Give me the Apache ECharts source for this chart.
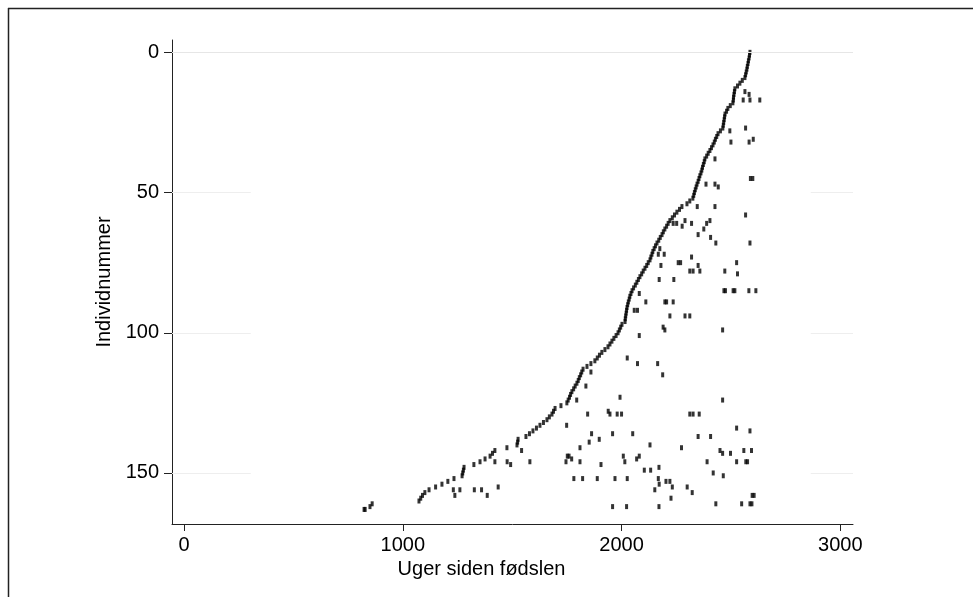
<!DOCTYPE html>
<html>
<head>
<meta charset="utf-8">
<script src="https://cdn.jsdelivr.net/npm/echarts@6/dist/echarts.min.js"></script>
<style>
html, body { margin: 0; padding: 0; background: #fff; }
#chart { width: 973px; height: 597px; }
</style>
</head>
<body>
<div id="chart"></div>
<script>
// uge for første observation, et tal pr. individ (række 0..163)
var startWeeks = [
  2587, 2585, 2583, 2580, 2578, 2575, 2573, 2570, 2567, 2564,
  2552, 2541, 2530, 2518, 2516, 2514, 2512, 2511, 2509, 2497,
  2486, 2480, 2473, 2471, 2469, 2467, 2465, 2463, 2452, 2441,
  2435, 2429, 2424, 2418, 2411, 2404, 2396, 2389, 2381, 2378,
  2374, 2370, 2367, 2363, 2358, 2354, 2350, 2345, 2341, 2337,
  2333, 2330, 2326, 2312, 2299, 2276, 2265, 2253, 2242, 2232,
  2221, 2213, 2206, 2198, 2191, 2185, 2177, 2170, 2162, 2155,
  2149, 2143, 2139, 2134, 2130, 2122, 2115, 2107, 2099, 2092,
  2084, 2077, 2070, 2063, 2055, 2048, 2043, 2038, 2035, 2031,
  2028, 2025, 2023, 2021, 2019, 2017, 2016, 2002, 1996, 1990,
  1984, 1975, 1965, 1956, 1947, 1938, 1924, 1910, 1899, 1889,
  1878, 1860, 1842, 1824, 1818, 1813, 1807, 1802, 1796, 1788,
  1781, 1773, 1767, 1762, 1756, 1750, 1723, 1696, 1689, 1682,
  1670, 1659, 1643, 1627, 1611, 1595, 1579, 1563, 1527, 1525,
  1522, 1476, 1421, 1410, 1399, 1376, 1353, 1325, 1280, 1277,
  1274, 1271, 1234, 1206, 1179, 1150, 1120, 1101, 1090, 1082,
  1074, 860, 850, 823
];

// senere observationer: uge og individnummer
var eventWeeks = [
  2564, 2583, 2556, 2587, 2632, 2567, 2495, 2602, 2583, 2500,
  2427, 2589, 2600, 2386, 2427, 2442, 2427, 2567, 2389, 2404,
  2376, 2407, 2431, 2587, 2526, 2358, 2472, 2530,
  2468, 2475, 2510, 2518, 2582, 2614, 2462, 2462, 2526, 2587,
  2407, 2450, 2462, 2498, 2559, 2594, 2391, 2526, 2568, 2576,
  2419, 2465, 2597, 2606, 2431, 2549, 2587, 2596,
  2346, 2236, 2252, 2290, 2277, 2320, 2350, 2175, 2168, 2195,
  2180, 2259, 2270, 2320, 2350, 2312, 2327, 2172, 2239, 2081,
  2111, 2198, 2206, 2236, 2058, 2073, 2221, 2290, 2312, 2190,
  2198, 2081, 2026, 2073, 2165, 2188, 1860, 1837, 1993, 1795,
  1845, 1939, 1947, 1980, 2000, 2312, 2327, 2355, 1749,
  1863, 1959, 2051, 2350, 1852, 1898, 1810, 2130, 2274, 1752,
  1760, 1772, 1746, 1810, 1906, 2008, 2015, 2069, 2081, 2104,
  2133, 2171, 1782, 1822, 1889, 1970, 2026, 2168, 2172, 2203,
  2221, 2232, 2152, 2300, 2323, 2226, 1959, 2023, 2171,
  1543, 1581, 1477, 1493, 1421, 1436, 1386, 1360, 1327, 1261,
  1231, 1238, 828
];
var eventRows = [
  14, 15, 17, 17, 17, 27, 28, 31, 32, 32,
  38, 45, 45, 47, 47, 48, 55, 58, 61, 60,
  63, 66, 68, 68, 75, 78, 78, 79,
  85, 85, 85, 85, 85, 85, 99, 124, 134, 135,
  137, 142, 143, 143, 142, 142, 146, 146, 146, 146,
  150, 151, 158, 158, 161, 161, 161, 161,
  55, 61, 61, 60, 62, 61, 65, 70, 72, 72,
  76, 75, 75, 73, 76, 78, 78, 81, 81, 86,
  89, 89, 89, 89, 92, 92, 94, 94, 94, 98,
  99, 101, 109, 111, 111, 115, 114, 119, 123, 124,
  129, 128, 129, 129, 129, 129, 129, 129, 133,
  136, 136, 136, 137, 139, 138, 141, 140, 141, 144,
  144, 145, 146, 146, 147, 144, 146, 145, 144, 149,
  149, 148, 152, 152, 152, 152, 152, 152, 154, 153,
  153, 155, 156, 155, 157, 159, 162, 162, 162,
  142, 146, 146, 147, 146, 155, 158, 156, 156, 156,
  156, 158, 163
];

var xTicks = [0, 1000, 2000, 3000];
var yTicks = [0, 50, 100, 150];

var chart = echarts.init(document.getElementById('chart'));

var startData = startWeeks.map(function (w, i) { return [w, i]; });
var eventData = eventWeeks.map(function (w, i) { return [w, eventRows[i]]; });

var font = "'Liberation Sans', Arial, Helvetica, sans-serif";
var xMin = -55, xMax = 3058;

// gitterlinjer: 0 hele vejen, de andre kun i kanterne
var gridLines = [
  [{ coord: [xMin, 0], lineStyle: { color: '#e6e6e6' } }, { coord: [xMax, 0] }]
];
[50, 100, 150].forEach(function (y) {
  gridLines.push([{ coord: [xMin, y] }, { coord: [305, y] }]);
  gridLines.push([{ coord: [2865, y] }, { coord: [xMax, y] }]);
});

var option = {
  backgroundColor: '#fff',
  animation: false,
  grid: { left: 172, right: 120, top: 40, bottom: 73 },
  xAxis: {
    type: 'value',
    min: xMin,
    max: xMax,
    name: 'Uger siden fødslen',
    nameLocation: 'middle',
    nameGap: 33,
    // titlen sidder lidt til venstre for midten i originalen
    nameTextStyle: { fontFamily: font, fontSize: 20, color: '#000', padding: [0, 62, 0, 0] },
    axisLine: { onZero: false, lineStyle: { color: '#222', width: 1 } },
    axisTick: { length: 7, customValues: xTicks, lineStyle: { color: '#222' } },
    axisLabel: {
      customValues: xTicks, fontFamily: font, fontSize: 20, color: '#000', margin: 11,
      formatter: function (v) { return String(v); }
    },
    splitLine: { show: false }
  },
  yAxis: {
    type: 'value',
    inverse: true,
    min: -4.4,
    max: 168.2,
    name: 'Individnummer',
    nameLocation: 'middle',
    nameGap: 58,
    nameTextStyle: { fontFamily: font, fontSize: 20, color: '#000' },
    axisLine: { show: true, onZero: false, lineStyle: { color: '#222', width: 1 } },
    axisTick: { show: true, length: 8, customValues: yTicks, lineStyle: { color: '#222' } },
    axisLabel: {
      customValues: yTicks, fontFamily: font, fontSize: 20, color: '#000', margin: 13,
      formatter: function (v) { return String(v); }
    },
    splitLine: { show: false }
  },
  graphic: [
    { type: 'line', shape: { x1: 8, y1: 8.5, x2: 973, y2: 8.5 }, style: { stroke: '#222', lineWidth: 1.5 } },
    { type: 'line', shape: { x1: 8.5, y1: 8, x2: 8.5, y2: 597 }, style: { stroke: '#222', lineWidth: 1.5 } }
  ],
  series: [
    {
      type: 'scatter',
      data: [],
      silent: true,
      z: 1,
      markLine: {
        silent: true,
        symbol: 'none',
        label: { show: false },
        lineStyle: { color: '#eeeeee', width: 1.2, type: 'solid' },
        data: gridLines
      }
    },
    {
      type: 'scatter',
      name: 'start',
      data: startData,
      symbol: 'rect',
      symbolSize: [3, 5],
      itemStyle: { color: '#000' },
      z: 3
    },
    {
      type: 'scatter',
      name: 'events',
      data: eventData,
      symbol: 'rect',
      symbolSize: [3, 5],
      itemStyle: { color: '#000' },
      z: 3
    }
  ]
};

chart.setOption(option);
</script>
</body>
</html>
